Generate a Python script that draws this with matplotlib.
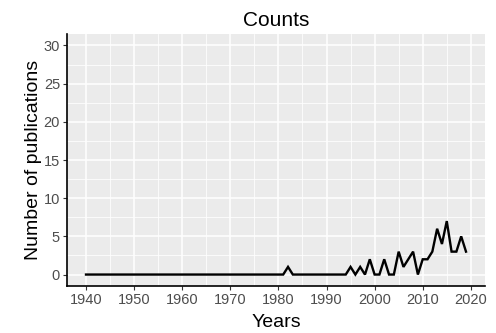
import matplotlib
matplotlib.use("Agg")
import matplotlib.pyplot as plt
from matplotlib.ticker import MultipleLocator

plt.rcParams['font.family'] = ['Liberation Sans', 'DejaVu Sans']

years = list(range(1940, 2020))
counts_1940_1994 = [0] * 42 + [1] + [0] * 12          # 1940..1994
counts_1995_2019 = [1, 0, 1, 0, 2, 0, 0, 2, 0, 0,
                    3, 1, 2, 3, 0, 2, 2, 3, 6, 4,
                    7, 3, 3, 5, 3]
counts = counts_1940_1994 + counts_1995_2019

title = "Counts"
x_label = "Years"
y_label = "Number of publications"

fig = plt.figure(figsize=(4.96, 3.33), dpi=100)
W, H = 496, 333
ax = fig.add_axes([67 / W, (H - 286) / H, (485 - 67) / W, (286 - 34) / H])

ax.set_facecolor("#EBEBEB")
ax.plot(years, counts, color="black", linewidth=1.7, solid_joinstyle="miter", zorder=3)

ax.set_xlim(1936.05, 2022.95)
ax.set_ylim(-1.5, 31.5)
ax.xaxis.set_major_locator(MultipleLocator(10))
ax.xaxis.set_minor_locator(MultipleLocator(5))
ax.yaxis.set_major_locator(MultipleLocator(5))
ax.yaxis.set_minor_locator(MultipleLocator(2.5))

ax.grid(which="major", color="white", linewidth=1.1)
ax.grid(which="minor", color="white", linewidth=0.55)
ax.set_axisbelow(True)

for side in ("top", "right"):
    ax.spines[side].set_visible(False)
for side in ("left", "bottom"):
    ax.spines[side].set_color("black")
    ax.spines[side].set_linewidth(1.2)

ax.tick_params(which="major", length=3, width=0.8, color="#333333",
               labelsize=10.5, labelcolor="#4D4D4D", pad=2)
ax.tick_params(which="minor", length=0)

ax.set_title(title, fontsize=15, pad=6)
ax.set_xlabel(x_label, fontsize=14, labelpad=5)
ax.set_ylabel(y_label, fontsize=14, labelpad=1)

fig.savefig("out.png", dpi=100)
